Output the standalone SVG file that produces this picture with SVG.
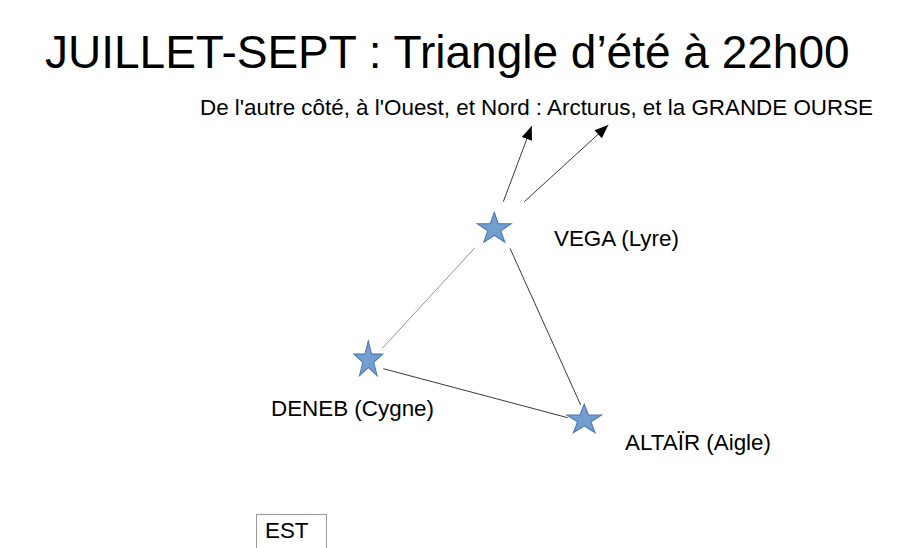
<svg xmlns="http://www.w3.org/2000/svg" width="913" height="548" viewBox="0 0 913 548">
<style>
text{font-family:"Liberation Sans",Arial,sans-serif;fill:#000}
.lbl{font-size:22.4px}
.star{fill:#729fcf;stroke:#4a76b0;stroke-width:0.6;vector-effect:non-scaling-stroke}
.ln{stroke:#222;stroke-width:0.9;fill:none}
</style>
<defs>
<path id="star" d="M0,-10 L2.245,-3.09 L9.511,-3.09 L3.633,1.18 L5.878,8.09 L0,3.82 L-5.878,8.09 L-3.633,1.18 L-9.511,-3.09 L-2.245,-3.09 Z"/>
<marker id="ah" viewBox="0 0 10 8" refX="10" refY="4" markerWidth="14" markerHeight="11" markerUnits="userSpaceOnUse" orient="auto">
<path d="M0,0 L10,4 L0,8 Z" fill="#000"/>
</marker>
</defs>
<rect width="913" height="548" fill="#fff"/>
<g id="title"><text x="45" y="68" font-size="46">JUILLET-SEPT : Triangle d’été à 22h00</text></g>
<g id="subtitle"><text x="200" y="115" font-size="22.4">De l'autre côté, à l'Ouest, et Nord : Arcturus, et la GRANDE OURSE</text></g>
<g id="connectors">
<line class="ln" x1="475" y1="247.7" x2="382.3" y2="348.3" style="stroke:#888"/>
<line class="ln" x1="383.3" y1="368.7" x2="567.7" y2="417.7"/>
<line class="ln" x1="510" y1="248.3" x2="580.7" y2="405"/>
<line class="ln" x1="503.3" y1="201.7" x2="531.7" y2="126" marker-end="url(#ah)"/>
<line class="ln" x1="524.3" y1="201.7" x2="608.3" y2="125" marker-end="url(#ah)"/>
</g>
<g id="vega">
<use href="#star" class="star" transform="translate(494.3,228.9) scale(1.788,1.658)"/>
<text class="lbl" x="554" y="246">VEGA (Lyre)</text>
</g>
<g id="deneb">
<use href="#star" class="star" transform="translate(368.3,360.05) scale(1.509,1.935)"/>
<text class="lbl" x="271" y="416">DENEB (Cygne)</text>
</g>
<g id="altair">
<use href="#star" class="star" transform="translate(584.2,419.9) scale(1.84,1.587)"/>
<text class="lbl" x="625" y="450">ALTAÏR (Aigle)</text>
</g>
<g id="est">
<rect x="256.5" y="514.5" width="70" height="40" fill="#fff" stroke="#999" stroke-width="1"/>
<text class="lbl" x="265" y="538">EST</text>
</g>
</svg>
